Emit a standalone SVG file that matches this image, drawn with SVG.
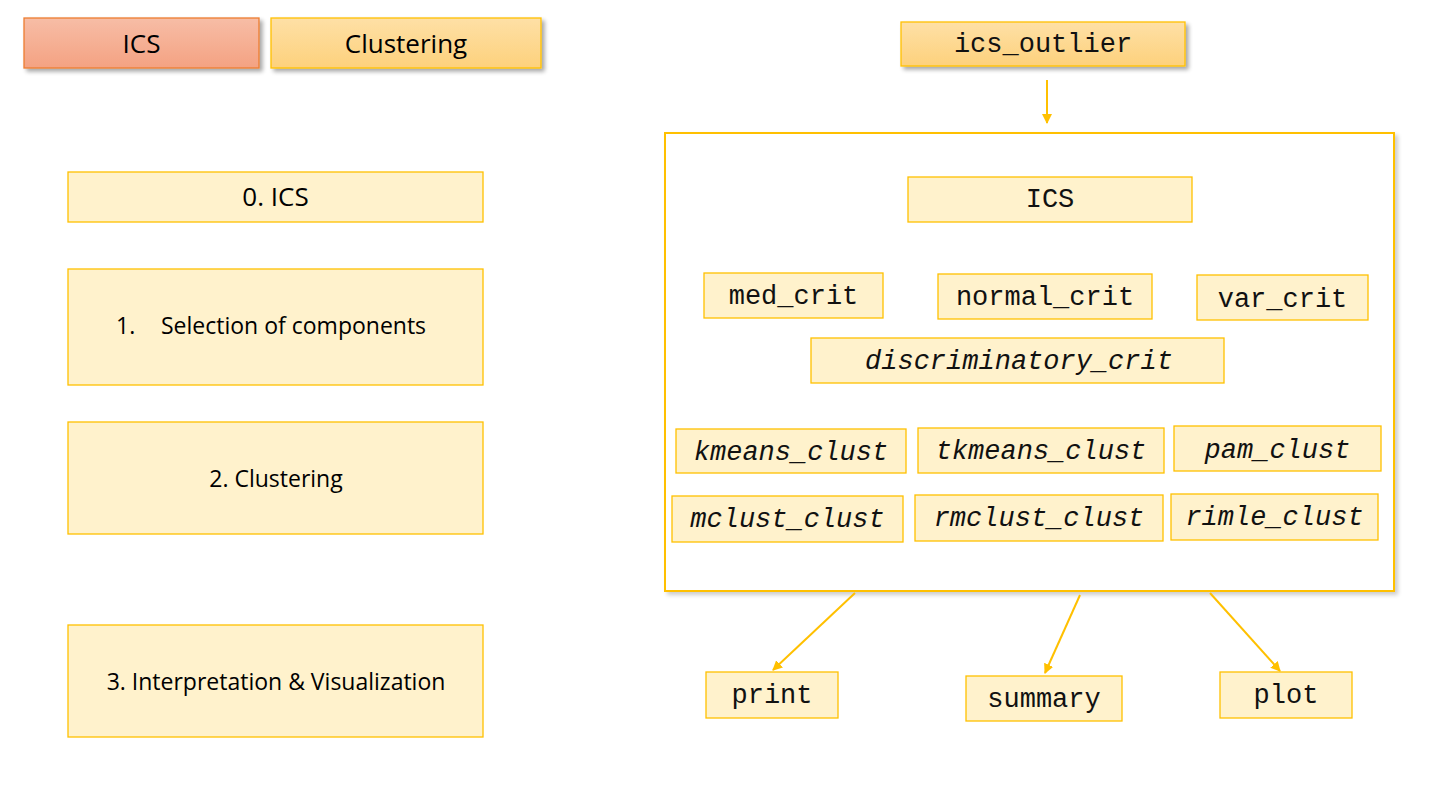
<svg xmlns="http://www.w3.org/2000/svg" width="1455" height="786" viewBox="0 0 1455 786">
<defs>
<linearGradient id="gRed" x1="0" y1="0" x2="0" y2="1"><stop offset="0" stop-color="#f7bda6"/><stop offset="1" stop-color="#f4a282"/></linearGradient>
<linearGradient id="gGold" x1="0" y1="0" x2="0" y2="1"><stop offset="0" stop-color="#fee0a6"/><stop offset="1" stop-color="#fdd17c"/></linearGradient>
<filter id="sh" x="-10%" y="-20%" width="120%" height="160%"><feGaussianBlur in="SourceAlpha" stdDeviation="2"/><feOffset dx="3" dy="3"/><feComponentTransfer><feFuncA type="linear" slope="0.35"/></feComponentTransfer><feMerge><feMergeNode/><feMergeNode in="SourceGraphic"/></feMerge></filter>
<filter id="inner" x="-5%" y="-5%" width="110%" height="110%"><feGaussianBlur in="SourceAlpha" stdDeviation="2"/><feOffset dx="3" dy="3"/><feComponentTransfer><feFuncA type="linear" slope="0.2"/></feComponentTransfer><feMerge><feMergeNode/><feMergeNode in="SourceGraphic"/></feMerge></filter>
<marker id="arr" viewBox="0 0 10 10" refX="9" refY="5" markerWidth="5" markerHeight="5" orient="auto"><path d="M0,0 L10,5 L0,10 z" fill="#ffc000"/></marker>
</defs>
<style>
.box{fill:#fff2cc;stroke:#ffc000;stroke-width:1.3}
.sans{font-family:"Open Sans","Liberation Sans",sans-serif;font-size:23px;fill:#000}
.big{font-size:26px}
.mono{font-family:"Liberation Mono","DejaVu Sans Mono",monospace;font-size:27px;fill:#111}
.it{font-style:italic}
.conn{stroke:#ffc000;stroke-width:2;fill:none;marker-end:url(#arr)}
</style>
<rect width="1455" height="786" fill="#fff"/>

<g id="hdr-ics"><rect x="24" y="18" width="235" height="50" fill="url(#gRed)" stroke="#ed7d31" stroke-width="1.3" filter="url(#sh)"/><text class="sans big" x="141.5" y="53" text-anchor="middle">ICS</text></g>
<g id="hdr-clustering"><rect x="271" y="18" width="270" height="50" fill="url(#gGold)" stroke="#ffc000" stroke-width="1.3" filter="url(#sh)"/><text class="sans big" x="406" y="53" text-anchor="middle">Clustering</text></g>

<g id="step0"><rect class="box" x="68" y="172" width="415" height="50"/><text class="sans big" x="275.5" y="206" text-anchor="middle">0. ICS</text></g>
<g id="step1"><rect class="box" x="68" y="269" width="415" height="116"/><text class="sans" x="116" y="334">1.</text><text class="sans" x="161" y="334">Selection of components</text></g>
<g id="step2"><rect class="box" x="68" y="422" width="415" height="112"/><text class="sans" x="276" y="487" text-anchor="middle">2. Clustering</text></g>
<g id="step3"><rect class="box" x="68" y="625" width="415" height="112"/><text class="sans" x="276" y="690" text-anchor="middle">3. Interpretation &amp; Visualization</text></g>

<g id="ics_outlier"><rect x="901" y="22" width="284" height="44" fill="url(#gGold)" stroke="#ffc000" stroke-width="1.3" filter="url(#sh)"/><text class="mono" x="1043" y="52" text-anchor="middle">ics_outlier</text></g>

<g id="container"><rect x="665" y="133" width="729" height="458" fill="#fff" stroke="#ffc000" stroke-width="2" filter="url(#inner)"/></g>

<g id="n-ics"><rect class="box" x="908" y="177" width="284" height="45"/><text class="mono" x="1050" y="207" text-anchor="middle">ICS</text></g>
<g id="n-med"><rect class="box" x="704" y="273" width="179" height="45"/><text class="mono" x="793.5" y="304" text-anchor="middle">med_crit</text></g>
<g id="n-normal"><rect class="box" x="938" y="274" width="214" height="45"/><text class="mono" x="1045" y="305" text-anchor="middle">normal_crit</text></g>
<g id="n-var"><rect class="box" x="1197" y="275" width="171" height="45"/><text class="mono" x="1282.5" y="307" text-anchor="middle">var_crit</text></g>
<g id="n-disc"><rect class="box" x="811" y="338" width="413" height="45"/><text class="mono it" x="1019" y="369" text-anchor="middle">discriminatory_crit</text></g>
<g id="n-kmeans"><rect class="box" x="676" y="429" width="230" height="44"/><text class="mono it" x="791" y="460" text-anchor="middle">kmeans_clust</text></g>
<g id="n-tkmeans"><rect class="box" x="918" y="428" width="246" height="45"/><text class="mono it" x="1041" y="459" text-anchor="middle">tkmeans_clust</text></g>
<g id="n-pam"><rect class="box" x="1174" y="426" width="207" height="45"/><text class="mono it" x="1277.5" y="458" text-anchor="middle">pam_clust</text></g>
<g id="n-mclust"><rect class="box" x="672" y="496" width="231" height="46"/><text class="mono it" x="787.5" y="527" text-anchor="middle">mclust_clust</text></g>
<g id="n-rmclust"><rect class="box" x="915" y="495" width="248" height="46"/><text class="mono it" x="1039" y="526" text-anchor="middle">rmclust_clust</text></g>
<g id="n-rimle"><rect class="box" x="1171" y="494" width="207" height="46"/><text class="mono it" x="1274.5" y="525" text-anchor="middle">rimle_clust</text></g>

<g id="n-print"><rect class="box" x="706" y="672" width="132" height="46"/><text class="mono" x="772" y="703" text-anchor="middle">print</text></g>
<g id="n-summary"><rect class="box" x="966" y="676" width="156" height="45"/><text class="mono" x="1044" y="707" text-anchor="middle">summary</text></g>
<g id="n-plot"><rect class="box" x="1220" y="672" width="132" height="46"/><text class="mono" x="1286" y="703" text-anchor="middle">plot</text></g>

<g id="connectors">
<line class="conn" x1="1047" y1="80" x2="1047" y2="123"/>
<line class="conn" x1="855" y1="593" x2="773" y2="670"/>
<line class="conn" x1="1080" y1="595" x2="1045" y2="673"/>
<line class="conn" x1="1210" y1="593" x2="1280" y2="671"/>
</g>
</svg>
